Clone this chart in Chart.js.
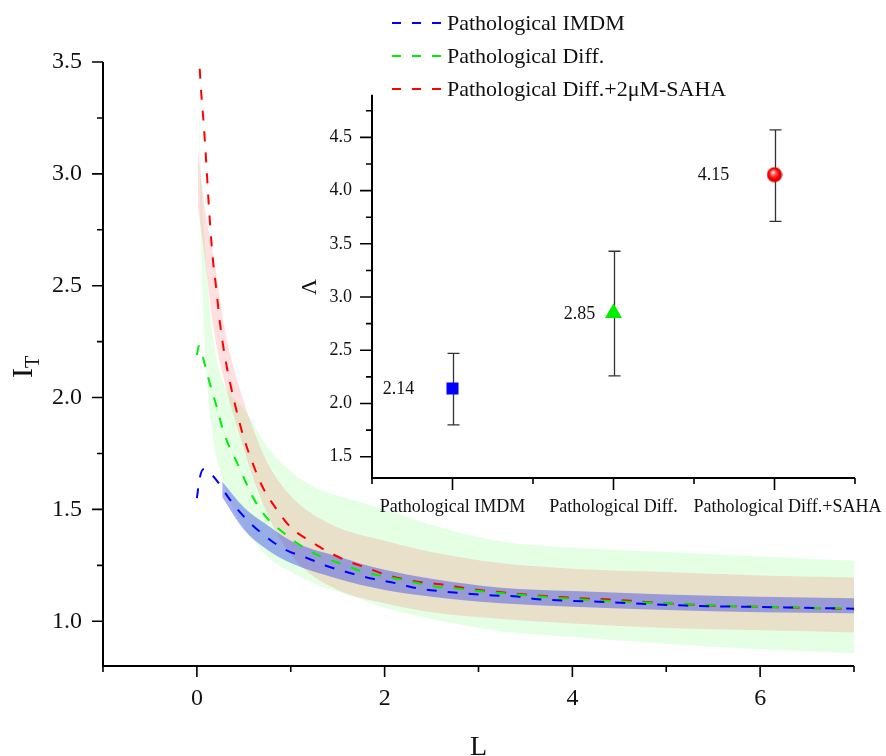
<!DOCTYPE html>
<html>
<head>
<meta charset="utf-8">
<script src="https://cdn.jsdelivr.net/npm/chart.js@4.4.1/dist/chart.umd.min.js"></script>
<style>
  html, body { margin: 0; padding: 0; background: #fff; }
  #wrap { position: relative; width: 886px; height: 756px; }
  #main { position: absolute; left: 0; top: 0; }
  #inset { position: absolute; left: 290px; top: 85px; }
</style>
</head>
<body>
<div id="wrap">
  <canvas id="main" width="886" height="756"></canvas>
  <canvas id="inset" width="596" height="440"></canvas>
</div>
<script>
// ---- main plot: fitted curves I_T(L)
var seriesNames = ['Pathological IMDM', 'Pathological Diff.', 'Pathological Diff.+2\u03bcM-SAHA'];

var imdmL = [0, 0.03, 0.07, 0.12, 0.21, 0.35, 0.53, 0.73, 0.94, 1.16, 1.4, 1.64, 1.87, 2.12, 2.35, 2.6, 2.85, 3.11, 3.38, 3.6, 4.42, 5.2, 6.27, 7.0];
var imdmI = [1.55, 1.64, 1.68, 1.67, 1.63, 1.545, 1.455, 1.38, 1.32, 1.285, 1.245, 1.215, 1.19, 1.17, 1.147, 1.134, 1.125, 1.116, 1.112, 1.10, 1.085, 1.07, 1.062, 1.056];

var diffL = [0, 0.02, 0.05, 0.12, 0.21, 0.29, 0.46, 0.59, 0.73, 0.91, 1.12, 1.32, 1.55, 1.78, 2.01, 2.26, 2.51, 2.76, 3.03, 3.27, 4.0, 5.0, 6.0, 7.0];
var diffI = [2.19, 2.23, 2.2, 2.09, 1.96, 1.84, 1.68, 1.56, 1.47, 1.40, 1.335, 1.29, 1.255, 1.22, 1.20, 1.18, 1.156, 1.147, 1.134, 1.125, 1.10, 1.08, 1.065, 1.057];

var sahaL = [0.03, 0.05, 0.07, 0.1, 0.13, 0.17, 0.2, 0.25, 0.3, 0.4, 0.5, 0.6, 0.7, 0.85, 1.0, 1.2, 1.4, 1.6, 1.8, 2.0, 2.3, 2.6, 3.0, 3.5, 4.0, 4.5, 5.0, 5.5, 6.0, 6.5, 7.0];
var sahaI = [3.47, 3.34, 3.24, 3.05, 2.84, 2.62, 2.51, 2.32, 2.18, 1.98, 1.82, 1.70, 1.60, 1.50, 1.42, 1.36, 1.31, 1.27, 1.24, 1.21, 1.18, 1.165, 1.14, 1.12, 1.105, 1.095, 1.08, 1.07, 1.065, 1.06, 1.055];

// confidence bands
var blueBandL = [0.27, 0.5, 0.75, 1.0, 1.5, 2.0, 2.5, 3.24, 4.0, 5.0, 6.0, 7.0];
var blueLo = [1.555, 1.41, 1.32, 1.26, 1.19, 1.14, 1.11, 1.08, 1.065, 1.05, 1.04, 1.036];
var blueHi = [1.625, 1.51, 1.43, 1.36, 1.29, 1.23, 1.19, 1.15, 1.135, 1.12, 1.11, 1.103];

var redBandL = [0.01, 0.085, 0.18, 0.3, 0.45, 0.6, 0.75, 0.9, 1.1, 1.5, 2.0, 2.5, 3.24, 4.0, 5.0, 6.0, 7.0];
var redLo = [2.86, 2.62, 2.30, 2.06, 1.84, 1.64, 1.48, 1.36, 1.25, 1.14, 1.08, 1.04, 1.01, 0.99, 0.97, 0.96, 0.95];
var redHi = [3.11, 2.85, 2.62, 2.30, 2.05, 1.86, 1.71, 1.61, 1.52, 1.42, 1.36, 1.31, 1.26, 1.235, 1.22, 1.205, 1.196];

var greenBandL = [0.02, 0.03, 0.04, 0.1, 0.17, 0.27, 0.39, 0.5, 0.75, 1.0, 1.3, 1.6, 2.0, 2.5, 3.24, 4.0, 5.0, 6.0, 7.0];
var greenLo = [3.3, 3.0, 2.75, 2.13, 1.83, 1.64, 1.50, 1.42, 1.29, 1.22, 1.16, 1.12, 1.06, 1.01, 0.955, 0.93, 0.90, 0.875, 0.857];
var greenHi = [3.36, 3.2, 3.05, 2.6, 2.28, 2.08, 2.0, 1.95, 1.78, 1.67, 1.59, 1.55, 1.50, 1.43, 1.357, 1.33, 1.31, 1.29, 1.27];

var mainXMajor = [0, 2, 4, 6];
var mainXMinor = [-1, 1, 3, 5, 7];
var mainYMajor = [1.0, 1.5, 2.0, 2.5, 3.0, 3.5];
var mainYMinor = [1.25, 1.75, 2.25, 2.75, 3.25];

// ---- inset: Lambda per condition
var categories = ['Pathological IMDM', 'Pathological Diff.', 'Pathological Diff.+SAHA'];
var lambdaVal = [2.14, 2.85, 4.15];
var lambdaLow = [1.80, 2.26, 3.71];
var lambdaHigh = [2.47, 3.43, 4.57];
var insetYMajor = [1.5, 2.0, 2.5, 3.0, 3.5, 4.0, 4.5];
var insetYMinor = [1.75, 2.25, 2.75, 3.25, 3.75, 4.25, 4.75];
var insetXMajor = [0, 1, 2];
var insetXMinor = [-0.5, 0.5, 1.5, 2.5];

var serif = "'Liberation Serif', 'Times New Roman', serif";

function pts(xs, ys) {
  var out = [];
  for (var i = 0; i < xs.length; i++) out.push({x: xs[i], y: ys[i]});
  return out;
}

function curve(label, xs, ys, color) {
  return { label: label, data: pts(xs, ys), borderColor: color, borderWidth: 2,
    borderDash: [10, 11], pointRadius: 0, fill: false, cubicInterpolationMode: 'monotone' };
}
function edge(xs, ys, fill, bg) {
  return { label: '', data: pts(xs, ys), borderColor: 'rgba(0,0,0,0)', borderWidth: 0,
    pointRadius: 0, fill: fill, backgroundColor: bg, cubicInterpolationMode: 'monotone' };
}

// Origin-like axes: left + bottom lines, outward ticks
function axesPlugin(o) {
  return {
    id: 'originAxes',
    afterDraw: function(chart) {
      var ctx = chart.ctx, a = chart.chartArea, xs = chart.scales.x, ys = chart.scales.y;
      ctx.save();
      ctx.strokeStyle = '#000';
      ctx.lineWidth = o.lw;
      ctx.beginPath();
      ctx.moveTo(a.left, a.top);
      ctx.lineTo(a.left, a.bottom);
      ctx.lineTo(a.right, a.bottom);
      ctx.stroke();
      ctx.lineWidth = o.lw * 0.8;
      ctx.beginPath();
      o.yMajor.forEach(function(v) { var y = ys.getPixelForValue(v); ctx.moveTo(a.left, y); ctx.lineTo(a.left - o.major, y); });
      o.yMinor.forEach(function(v) { var y = ys.getPixelForValue(v); ctx.moveTo(a.left, y); ctx.lineTo(a.left - o.minor, y); });
      o.xMajor.forEach(function(v) { var x = xs.getPixelForValue(v); ctx.moveTo(x, a.bottom); ctx.lineTo(x, a.bottom + o.major); });
      o.xMinor.forEach(function(v) { var x = xs.getPixelForValue(v); ctx.moveTo(x, a.bottom); ctx.lineTo(x, a.bottom + o.minor); });
      ctx.stroke();
      ctx.fillStyle = '#111';
      ctx.font = o.font;
      ctx.textAlign = 'right';
      ctx.textBaseline = 'middle';
      o.yMajor.forEach(function(v) { ctx.fillText(o.yText(v), a.left - o.yGap, ys.getPixelForValue(v)); });
      ctx.textAlign = 'center';
      o.xMajor.forEach(function(v, i) {
        var shift = o.xShift ? o.xShift[i] : 0;
        ctx.fillText(o.xText(v), xs.getPixelForValue(v) + shift, a.bottom + o.xGap);
      });
      ctx.restore();
    }
  };
}

var mainExtras = {
  id: 'mainExtras',
  afterDraw: function(chart) {
    var ctx = chart.ctx;
    ctx.save();
    // legend
    var rows = [23, 56, 89];
    for (var i = 0; i < 3; i++) {
      var ds = chart.data.datasets[i];
      ctx.strokeStyle = ds.borderColor;
      ctx.lineWidth = 2;
      ctx.setLineDash([9, 11]);
      ctx.beginPath();
      ctx.moveTo(392, rows[i]);
      ctx.lineTo(443, rows[i]);
      ctx.stroke();
      ctx.setLineDash([]);
      ctx.fillStyle = '#111';
      ctx.font = '22px ' + serif;
      ctx.textAlign = 'left';
      ctx.textBaseline = 'middle';
      ctx.fillText(ds.label, 447, rows[i] + 1);
    }
    // axis titles
    ctx.font = '28px ' + serif;
    ctx.textAlign = 'center';
    ctx.textBaseline = 'alphabetic';
    var a = chart.chartArea;
    ctx.fillText('L', (a.left + a.right) / 2, 755);
    ctx.translate(32, 378);
    ctx.rotate(-Math.PI / 2);
    ctx.textAlign = 'left';
    ctx.font = '30px ' + serif;
    ctx.fillText('I', 0, 0);
    var w = ctx.measureText('I').width;
    ctx.font = '20px ' + serif;
    ctx.fillText('T', w, 7);
    ctx.restore();
  }
};

new Chart(document.getElementById('main').getContext('2d'), {
  type: 'line',
  data: {
    datasets: [
      curve(seriesNames[0], imdmL, imdmI, '#0000ff'),
      curve(seriesNames[1], diffL, diffI, '#00ee00'),
      curve(seriesNames[2], sahaL, sahaI, '#ff0000'),
      edge(blueBandL, blueLo, false, 'rgba(0,0,0,0)'),
      edge(blueBandL, blueHi, '-1', 'rgba(40,60,230,0.42)'),
      edge(redBandL, redLo, false, 'rgba(0,0,0,0)'),
      edge(redBandL, redHi, '-1', 'rgba(255,0,0,0.12)'),
      edge(greenBandL, greenLo, false, 'rgba(0,0,0,0)'),
      edge(greenBandL, greenHi, '-1', 'rgba(0,255,0,0.1)')
    ]
  },
  options: {
    responsive: false,
    animation: false,
    devicePixelRatio: 1,
    layout: { padding: { left: 103, right: 32, top: 62, bottom: 90 } },
    scales: {
      x: { type: 'linear', min: -1, max: 7, display: false },
      y: { type: 'linear', min: 0.8, max: 3.5, display: false }
    },
    plugins: { legend: { display: false }, tooltip: { enabled: false } }
  },
  plugins: [axesPlugin({
    lw: 2, major: 11, minor: 6, font: '24px ' + serif, yGap: 21, xGap: 33,
    xMajor: mainXMajor, xMinor: mainXMinor, yMajor: mainYMajor, yMinor: mainYMinor,
    xText: function(v) { return String(v); }, yText: function(v) { return v.toFixed(1); }
  }), mainExtras]
});

// shaded red ball marker
var ball = document.createElement('canvas');
ball.width = 16; ball.height = 16;
(function() {
  var b = ball.getContext('2d');
  var g = b.createRadialGradient(6.5, 5.5, 0.5, 8, 8, 8);
  g.addColorStop(0, '#ffffff');
  g.addColorStop(0.25, '#ff6060');
  g.addColorStop(0.6, '#ff0000');
  g.addColorStop(1, '#c00000');
  b.fillStyle = g;
  b.beginPath();
  b.arc(8, 8, 7.6, 0, Math.PI * 2);
  b.fill();
})();

var insetExtras = {
  id: 'insetExtras',
  beforeDatasetsDraw: function(chart) {
    var ctx = chart.ctx, xs = chart.scales.x, ys = chart.scales.y;
    ctx.save();
    ctx.strokeStyle = '#333';
    ctx.lineWidth = 1.3;
    ctx.beginPath();
    for (var i = 0; i < lambdaVal.length; i++) {
      var x = Math.round(xs.getPixelForValue(i)) + 0.5;
      var y1 = ys.getPixelForValue(lambdaHigh[i]), y2 = ys.getPixelForValue(lambdaLow[i]);
      ctx.moveTo(x, y1); ctx.lineTo(x, y2);
      ctx.moveTo(x - 6, y1); ctx.lineTo(x + 6, y1);
      ctx.moveTo(x - 6, y2); ctx.lineTo(x + 6, y2);
    }
    ctx.stroke();
    ctx.restore();
  },
  afterDraw: function(chart) {
    var ctx = chart.ctx, xs = chart.scales.x, ys = chart.scales.y;
    var dx = [-54, -34, -61];
    ctx.save();
    ctx.fillStyle = '#111';
    ctx.font = '18px ' + serif;
    ctx.textAlign = 'center';
    ctx.textBaseline = 'middle';
    for (var i = 0; i < lambdaVal.length; i++) {
      ctx.fillText(lambdaVal[i].toFixed(2), xs.getPixelForValue(i) + dx[i], ys.getPixelForValue(lambdaVal[i]) + 1);
    }
    ctx.font = '22px ' + serif;
    ctx.translate(20, 202);
    ctx.rotate(-Math.PI / 2);
    ctx.fillText('\u039b', 0, 0);
    ctx.restore();
  }
};

new Chart(document.getElementById('inset').getContext('2d'), {
  type: 'scatter',
  data: {
    datasets: [{
      data: lambdaVal.map(function(v, i) { return {x: i, y: v}; }),
      pointStyle: ['rect', 'triangle', ball],
      pointRadius: [8.5, 9.8, 8],
      backgroundColor: ['#0000ff', '#00ee00', '#ff0000'],
      borderColor: ['#0000ff', '#00ee00', '#ff0000'],
      borderWidth: 0
    }]
  },
  options: {
    responsive: false,
    animation: false,
    devicePixelRatio: 1,
    layout: { padding: { left: 82, right: 31, top: 8, bottom: 47 } },
    scales: {
      x: { type: 'linear', min: -0.5, max: 2.5, display: false },
      y: { type: 'linear', min: 1.3, max: 4.9, display: false }
    },
    plugins: { legend: { display: false }, tooltip: { enabled: false } }
  },
  plugins: [axesPlugin({
    lw: 2, major: 12, minor: 6, font: '18px ' + serif, yGap: 20, xGap: 29, xShift: [0, 0, 13],
    xMajor: insetXMajor, xMinor: insetXMinor, yMajor: insetYMajor, yMinor: insetYMinor,
    xText: function(v) { return categories[v]; }, yText: function(v) { return v.toFixed(1); }
  }), insetExtras]
});
</script>
</body>
</html>
